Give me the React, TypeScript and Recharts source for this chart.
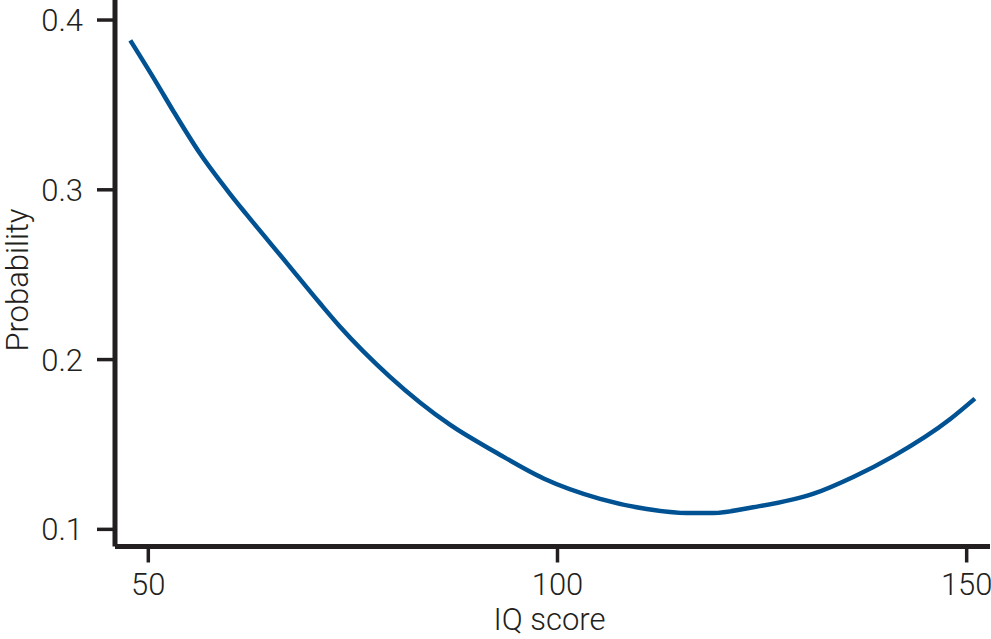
import { LineChart, Line, XAxis, YAxis, Label } from 'recharts';

// values
const iqScores = [
	47.8, 51.0, 53.1, 56.3, 60.0, 62.0, 66.9, 71.0, 73.4, 79.5, 86.9, 92.6, 98.3,
	105.2, 110.9, 115.8, 119.0, 123.9, 131.3, 136.2, 141.0, 148.0, 151.0,
];
const probabilities = [
	0.388, 0.363, 0.346, 0.3215, 0.2975, 0.2855, 0.257, 0.233, 0.2195, 0.19,
	0.1615, 0.145, 0.13, 0.118, 0.112, 0.1096, 0.1096, 0.113, 0.121, 0.131,
	0.143, 0.165, 0.177,
];
const xTicks = [50, 100, 150];
const yTicks = [0.1, 0.2, 0.3, 0.4];

const data = iqScores.map((iq, i) => ({ iq, p: probabilities[i] }));

const ink = '#231f20';
const font = "Roboto, 'Liberation Sans', sans-serif";
const tickStyle = { fill: ink, fontSize: 31, fontFamily: font, fontWeight: 300 };

const YLabel = () => (
	<text
		x={28}
		y={280}
		transform='rotate(-90 28 280)'
		textAnchor='middle'
		fill={ink}
		fontSize={31}
		fontFamily={font}
		fontWeight={300}>
		Probability
	</text>
);

export default function App() {
	return (
		<div style={{ position: 'absolute', left: 0, top: 0, background: '#fff' }}>
			<LineChart
				width={991}
				height={639}
				data={data}
				margin={{ top: 0, right: 1, bottom: 0, left: 0 }}>
				<XAxis
					dataKey='iq'
					type='number'
					domain={[45.93, 152.85]}
					ticks={xTicks}
					allowDataOverflow
					height={92.5}
					tickSize={16}
					tickMargin={10}
					axisLine={{ stroke: ink, strokeWidth: 5 }}
					tickLine={{ stroke: ink, strokeWidth: 3.5 }}
					tick={tickStyle}>
					<Label
						value='IQ score'
						position='insideBottom'
						offset={9}
						dx={-3}
						fill={ink}
						fontSize={31}
						fontFamily={font}
						fontWeight={300}
					/>
				</XAxis>
				<YAxis
					type='number'
					domain={[0.0899, 0.4118]}
					ticks={yTicks}
					allowDataOverflow
					width={115}
					tickSize={18}
					tickMargin={14}
					tickFormatter={(v: number) => v.toFixed(1)}
					axisLine={{ stroke: ink, strokeWidth: 5 }}
					tickLine={{ stroke: ink, strokeWidth: 3.5 }}
					tick={tickStyle}>
					<Label content={<YLabel />} />
				</YAxis>
				<Line
					type='monotone'
					dataKey='p'
					stroke='#005293'
					strokeWidth={4.5}
					dot={false}
					isAnimationActive={false}
				/>
			</LineChart>
		</div>
	);
}
